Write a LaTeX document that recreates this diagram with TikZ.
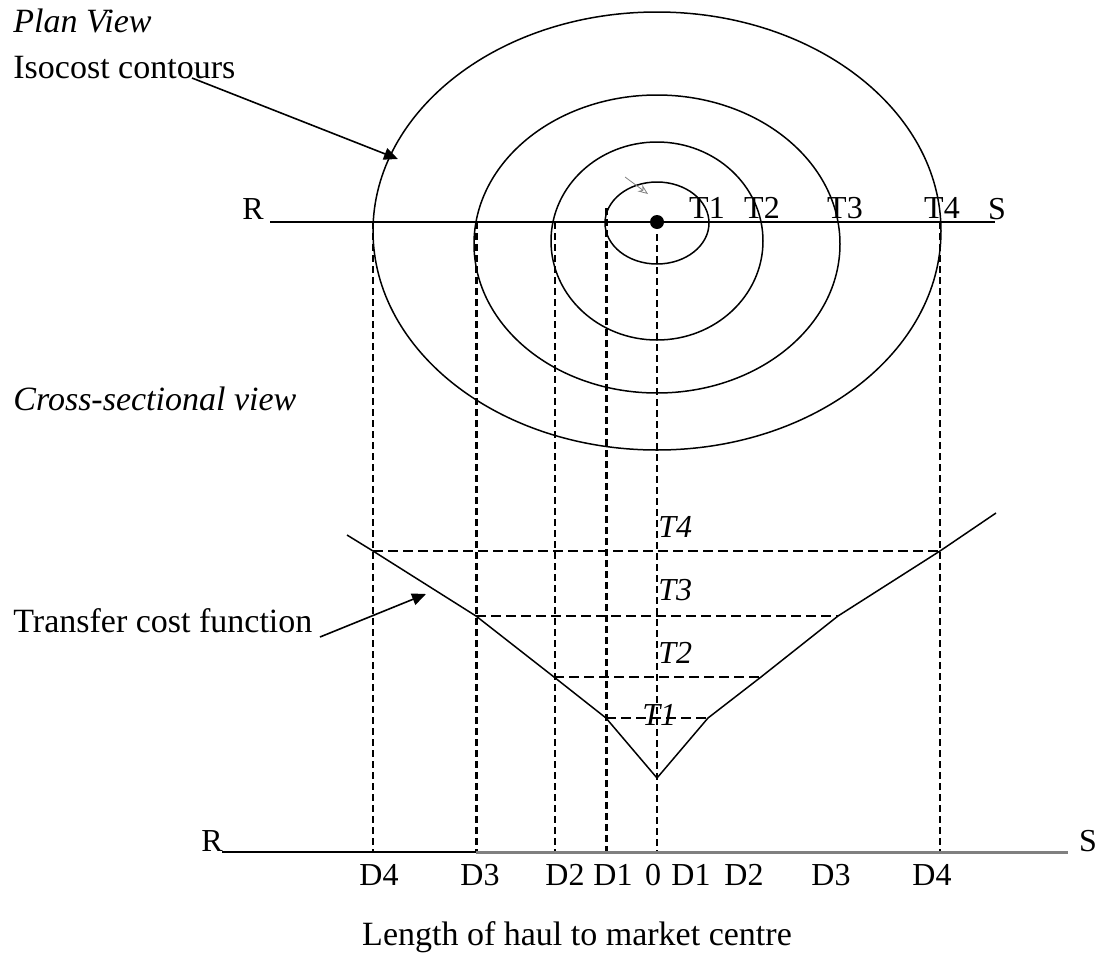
\documentclass[tikz,border=0pt]{standalone}
\usepackage{fontspec}
\setmainfont{Liberation Serif}
\usetikzlibrary{arrows.meta}
\begin{document}
\begin{tikzpicture}[x=0.5pt,y=-0.5pt,
  lbl/.style={inner sep=0pt, font=\fontsize{17}{20}\selectfont},
  tlbl/.style={inner sep=0pt, font=\fontsize{16}{19}\selectfont},
  contour/.style={line width=0.75pt},
  axisline/.style={line width=1.2pt},
  vdash/.style={dash pattern=on 3.5pt off 2pt, line width=1pt},
  vdashthick/.style={vdash, line width=1.5pt},
  vdashthin/.style={dash pattern=on 3.5pt off 2pt, line width=0.7pt},
  hdash/.style={dash pattern=on 5pt off 2.5pt, line width=1.3pt},
  hdashthin/.style={dash pattern=on 5pt off 2.5pt, line width=0.8pt},
  costfn/.style={line width=0.75pt, line join=round},
  pointer/.style={line width=0.8pt, -{Triangle[length=7pt,width=6pt]}},
  smallarrow/.style={gray, line width=0.4pt, -{Stealth[open,length=5pt,width=4pt]}}
]
\useasboundingbox (0,0) rectangle (1105,954);

% ---------- texts on the left
\node[lbl, anchor=base west] (plan) at (13,32) {\textit{Plan View}};
\node[lbl, anchor=base west] (iso) at (13,78) {Isocost contours};
\node[lbl, anchor=base west] (cross) at (13,410) {\textit{Cross-sectional view}};
\node[lbl, anchor=base west] (tcf) at (13,632) {Transfer cost function};

% ---------- plan view
\coordinate (c4) at (657,231);
\coordinate (c3) at (657,244);
\coordinate (c2) at (657,241);
\coordinate (c1) at (657,223);
\draw[contour] (c4) ellipse [x radius=142pt, y radius=109.5pt];
\draw[contour] (c3) ellipse [x radius=91.5pt, y radius=74.5pt];
\draw[contour] (c2) ellipse [x radius=53pt, y radius=49.5pt];
\draw[contour] (c1) ellipse [x radius=26pt, y radius=20.5pt];

\coordinate (rsL) at (270,222);
\coordinate (rsR) at (995,222);
\draw[axisline] (rsL) -- (rsR);
\node[tlbl, anchor=base] (Rtop) at (253,219) {R};
\node[tlbl, anchor=base] (Stop) at (997,219) {S};
\node[tlbl, anchor=base] (T1p) at (707,218) {T1};
\node[tlbl, anchor=base] (T2p) at (762,218) {T2};
\node[tlbl, anchor=base] (T3p) at (845,218) {T3};
\node[tlbl, anchor=base] (T4p) at (942,218) {T4};
\node[circle, fill=black, inner sep=0pt, minimum size=7pt] (centre) at (657,222) {};

\coordinate (saA) at (625,177);
\coordinate (saB) at (648,194);
\draw[smallarrow] (saA) -- (saB);

\coordinate (isoA) at (192,78);
\coordinate (isoB) at (398,159);
\draw[pointer] (isoA) -- (isoB);

% ---------- vertical dashed projection lines
\coordinate (v4Lt) at (373,222); \coordinate (v4Lb) at (373,852);
\coordinate (v3Lt) at (476,222); \coordinate (v3Lb) at (476,852);
\coordinate (v2Lt) at (555,222); \coordinate (v2Lb) at (555,852);
\coordinate (v1Lt) at (606,208); \coordinate (v1Lb) at (606,852);
\coordinate (v0t)  at (657,234); \coordinate (v0b)  at (657,852);
\coordinate (v4Rt) at (940,222); \coordinate (v4Rb) at (940,852);
\draw[vdash] (v4Lt) -- (v4Lb);
\draw[vdashthick] (v3Lt) -- (v3Lb);
\draw[vdash] (v2Lt) -- (v2Lb);
\draw[vdashthick] (v1Lt) -- (v1Lb);
\draw[vdashthin] (v0t) -- (v0b);
\draw[vdash] (v4Rt) -- (v4Rb);

% ---------- cross-section: transfer cost function
\coordinate (fL)  at (347,535);
\coordinate (fL4) at (373,551);
\coordinate (fL3) at (476,616);
\coordinate (fL2) at (554,677);
\coordinate (fL1) at (606,718);
\coordinate (f0)  at (657,778);
\coordinate (fR1) at (708,718);
\coordinate (fR2) at (761,677);
\coordinate (fR3) at (838,616);
\coordinate (fR4) at (940,551);
\coordinate (fR)  at (996,513);
\draw[costfn] (fL) -- (fL4) -- (fL3) -- (fL2) -- (fL1) -- (f0) -- (fR1) -- (fR2) -- (fR3) -- (fR4) -- (fR);

\draw[hdashthin] (fL4) -- (fR4);
\draw[hdash] (fL3) -- (fR3);
\draw[hdash] (fL2) -- (fR2);
\draw[hdash] (fL1) -- (fR1);

\node[tlbl, anchor=base west] (T4c) at (658,537) {\textit{T4}};
\node[tlbl, anchor=base west] (T3c) at (658,600) {\textit{T3}};
\node[tlbl, anchor=base west] (T2c) at (658,663) {\textit{T2}};
\node[tlbl, anchor=base west] (T1c) at (642,725) {\textit{T1}};

\coordinate (tcfA) at (320,637);
\coordinate (tcfB) at (426,594);
\draw[pointer] (tcfA) -- (tcfB);

% ---------- bottom axis
\coordinate (bL) at (222,852);
\coordinate (bM) at (476,852);
\coordinate (bR) at (1068,852);
\draw[line width=1pt] (bL) -- (bM);
\draw[line width=1.5pt, black!50] (bM) -- (bR);
\node[tlbl, anchor=base] (Rbot) at (212,851) {R};
\node[tlbl, anchor=base] (Sbot) at (1088,851) {S};

\node[tlbl, anchor=base] (D4L) at (379,885) {D4};
\node[tlbl, anchor=base] (D3L) at (480,885) {D3};
\node[tlbl, anchor=base] (D2L) at (565,885) {D2};
\node[tlbl, anchor=base] (D1L) at (613,885) {D1};
\node[tlbl, anchor=base] (zero) at (653,885) {0};
\node[tlbl, anchor=base] (D1R) at (691,885) {D1};
\node[tlbl, anchor=base] (D2R) at (744,885) {D2};
\node[tlbl, anchor=base] (D3R) at (831,885) {D3};
\node[tlbl, anchor=base] (D4R) at (932,885) {D4};

\node[lbl, anchor=base] (haul) at (577,945) {Length of haul to market centre};
\end{tikzpicture}
\end{document}
